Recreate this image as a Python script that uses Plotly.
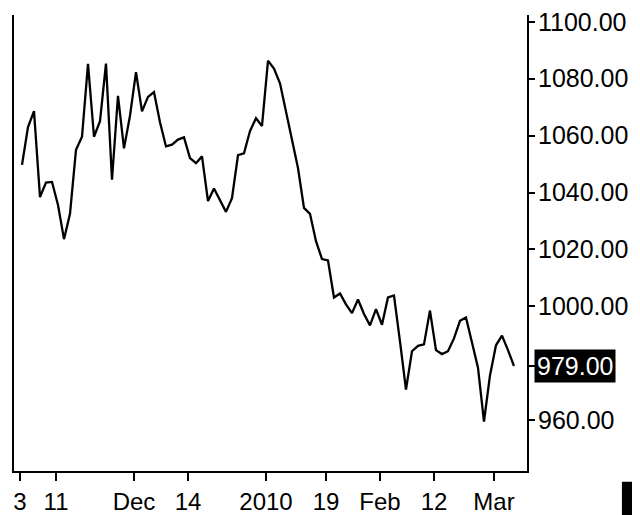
import plotly.graph_objects as go

# Trading days (Nov 3 2009 - Mar 4 2010)
dates = (
    ["2009-11-%02d" % d for d in [3, 4, 5, 6, 9, 10, 11, 12, 13, 16, 17, 18, 19, 20, 23, 24, 25, 27, 30]]
    + ["2009-12-%02d" % d for d in [1, 2, 3, 4, 7, 8, 9, 10, 11, 14, 15, 16, 17, 18, 21, 22, 23, 24, 28, 29, 30, 31]]
    + ["2010-01-%02d" % d for d in [4, 5, 6, 7, 8, 11, 12, 13, 14, 15, 19, 20, 21, 22, 25, 26, 27, 28, 29]]
    + ["2010-02-%02d" % d for d in [1, 2, 3, 4, 5, 8, 9, 10, 11, 12, 16, 17, 18, 19, 22, 23, 24, 25, 26]]
    + ["2010-03-%02d" % d for d in [1, 2, 3, 4]]
)

prices = [
    1049.7, 1063.0, 1068.6, 1038.4, 1043.5, 1043.7, 1035.6, 1023.6, 1032.5, 1055.0,
    1059.6, 1085.2, 1059.6, 1065.1, 1085.3, 1044.5, 1074.0, 1055.5, 1067.0, 1082.3,
    1068.5, 1073.6, 1075.3, 1064.7, 1056.2, 1056.8, 1058.6, 1059.4, 1052.1, 1050.3,
    1052.7, 1037.0, 1041.4, 1037.3, 1033.2, 1038.0, 1053.1, 1053.8, 1061.6, 1066.1,
    1063.4, 1086.3, 1083.6, 1078.4, 1068.2, 1059.2, 1048.6, 1034.6, 1032.5, 1022.9,
    1016.6, 1016.1, 1003.1, 1004.5, 1000.7, 997.6, 1002.4, 997.3, 993.3, 999.0,
    993.5, 1003.1, 1003.8, 987.7, 970.7, 984.2, 986.1, 986.6, 998.5, 984.6,
    983.2, 984.2, 988.7, 994.9, 996.1, 987.3, 978.4, 959.5, 975.7, 986.3,
    989.7, 984.6, 979.0,
]

tick_dates = ["2009-11-03", "2009-11-11", "2009-12-01", "2009-12-14", "2010-01-04",
              "2010-01-19", "2010-02-01", "2010-02-12", "2010-03-01"]
tick_labels = ["3", "11", "Dec", "14", "2010", "19", "Feb", "12", "Mar"]

y_ticks = [960, 979, 1000, 1020, 1040, 1060, 1080, 1100]
last_price = prices[-1]

FONT = "Liberation Sans, Arial, sans-serif"
FS_X = 24
FS_Y = 25
tick_offset = -0.33

xs = list(range(len(dates)))
tickvals_x = [dates.index(d) + tick_offset for d in tick_dates]

fig = go.Figure()
fig.add_trace(go.Scatter(
    x=xs, y=prices, mode="lines",
    line=dict(color="black", width=2.3),
    customdata=dates, hovertemplate="%{customdata}: %{y:.2f}<extra></extra>",
    showlegend=False,
))

# page body has an 8px default margin, so the figure is 632x507
fig.update_layout(
    width=632, height=507,
    margin=dict(l=6, r=113, t=0, b=39),
    paper_bgcolor="white", plot_bgcolor="white",
    font=dict(family=FONT, size=FS_X, color="black"),
    xaxis=dict(
        range=[-1.333, 84.17],
        tickvals=tickvals_x, ticktext=tick_labels,
        showgrid=False, zeroline=False,
        showline=True, linecolor="black", linewidth=2,
        ticks="outside", ticklen=8, tickwidth=1.5, tickcolor="black",
        tickfont=dict(family=FONT, size=FS_X, color="black"),
    ),
    yaxis=dict(
        side="right",
        range=[942.1, 1102.4],
        tickvals=y_ticks,
        ticktext=["" if v == last_price else "%.2f" % v for v in y_ticks],
        showgrid=False, zeroline=False,
        showline=True, mirror=True, linecolor="black", linewidth=2,
        ticks="outside", ticklen=6, tickwidth=1.5, tickcolor="black",
        tickfont=dict(family=FONT, size=FS_Y, color="black"),
        ticklabeloverflow="allow",
        ticklabelstandoff=-2,
    ),
)

fig.add_annotation(
    xref="paper", yref="y", x=1, y=last_price,
    xanchor="left", yanchor="middle", xshift=7,
    text="%.2f" % last_price, showarrow=False,
    font=dict(family=FONT, size=FS_Y, color="white"),
    bgcolor="black", borderpad=2,
)

# black marker box partially visible at bottom-right corner
fig.add_shape(type="rect", xref="paper", yref="paper",
              x0=1.185, x1=1.3, y0=-0.2, y1=-0.0235,
              fillcolor="black", line=dict(width=0))

fig.write_html("out.html")
